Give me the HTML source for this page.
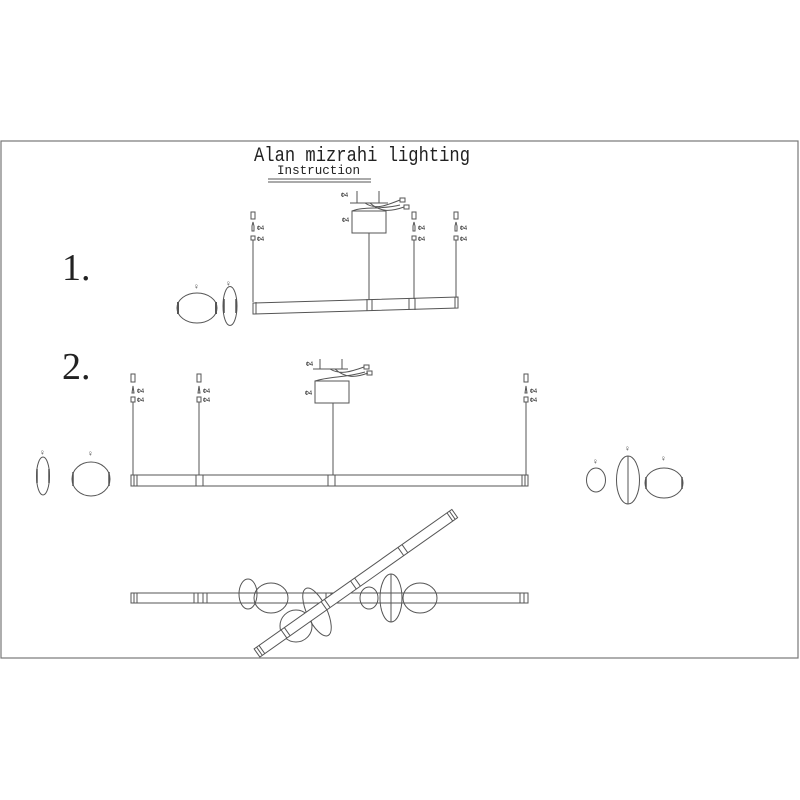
<!DOCTYPE html>
<html><head><meta charset="utf-8"><style>
html,body{margin:0;padding:0;background:#fff;width:800px;height:800px;overflow:hidden}
svg{display:block}
text{font-family:"Liberation Mono","DejaVu Sans Mono",monospace;fill:#222}
</style></head><body>
<svg width="800" height="800" viewBox="0 0 800 800" xmlns="http://www.w3.org/2000/svg">
<g fill="none" stroke="#555" stroke-width="1">
<rect x="1" y="141" width="797" height="517" stroke="#777" stroke-width="1.2"/>
<line x1="268" y1="179" x2="371" y2="179"/><line x1="268" y1="182" x2="371" y2="182"/>

<!-- Section 1 canopy -->
<line x1="350" y1="203" x2="388" y2="203"/>
<line x1="357" y1="191" x2="357" y2="203"/><line x1="379" y1="191" x2="379" y2="203"/>
<rect x="352" y="211" width="34" height="22"/>
<path d="M365 203 C375 210 385 206 400 200 M370 203 C380 212 390 212 404 207 M352 211 C365 206 380 210 400 205"/>
<rect x="400" y="198" width="5" height="4"/><rect x="404" y="205" width="5" height="4"/>
<line x1="369" y1="233" x2="369" y2="300"/>
<g>
<rect x="251" y="212" width="4" height="7"/><path d="M252 226 L253 222 L254 226 L254 231 L252 231Z"/><rect x="251" y="236" width="4" height="4"/><line x1="253" y1="240" x2="253" y2="302"/>
<rect x="412" y="212" width="4" height="7"/><path d="M413 226 L414 222 L415 226 L415 231 L413 231Z"/><rect x="412" y="236" width="4" height="4"/><line x1="414" y1="240" x2="414" y2="299"/>
<rect x="454" y="212" width="4" height="7"/><path d="M455 226 L456 222 L457 226 L457 231 L455 231Z"/><rect x="454" y="236" width="4" height="4"/><line x1="456" y1="240" x2="456" y2="297"/>
</g>
<path d="M253 303 L458 297 L458 308 L253 314 Z"/>
<path d="M256 302 L256 314 M367 299 L367 311 M372 299 L372 311 M409 298 L409 310 M415 298 L415 310 M455 297 L455 308"/>
<ellipse cx="197" cy="308" rx="20" ry="15"/>
<path d="M178 302 V314 M216 302 V314" stroke-width="2"/>
<ellipse cx="230" cy="306" rx="7" ry="19.5"/>
<path d="M224 299 V313 M236 299 V313" stroke-width="1.5"/>

<!-- Section 2 canopy -->
<line x1="313" y1="369" x2="348" y2="369"/>
<line x1="320" y1="359" x2="320" y2="369"/><line x1="342" y1="359" x2="342" y2="369"/>
<rect x="315" y="381" width="34" height="22"/>
<path d="M330 369 C340 375 350 372 364 367 M335 369 C345 378 355 378 368 373 M315 381 C330 376 345 378 365 372"/>
<rect x="364" y="365" width="5" height="4"/><rect x="367" y="371" width="5" height="4"/>
<line x1="333" y1="403" x2="333" y2="475"/>
<g>
<rect x="131" y="374" width="4" height="8"/><path d="M132 393 L133 386 L134 393Z"/><rect x="131" y="397" width="4" height="5"/><line x1="133" y1="402" x2="133" y2="475"/>
<rect x="197" y="374" width="4" height="8"/><path d="M198 393 L199 386 L200 393Z"/><rect x="197" y="397" width="4" height="5"/><line x1="199" y1="402" x2="199" y2="475"/>
<rect x="524" y="374" width="4" height="8"/><path d="M525 393 L526 386 L527 393Z"/><rect x="524" y="397" width="4" height="5"/><line x1="526" y1="402" x2="526" y2="475"/>
</g>
<rect x="131" y="475" width="397" height="11"/>
<path d="M134 475 V486 M137 475 V486 M196 475 V486 M203 475 V486 M328 475 V486 M335 475 V486 M522 475 V486 M525 475 V486"/>
<ellipse cx="43" cy="476" rx="6.5" ry="19"/>
<path d="M37 469 V483 M49 469 V483" stroke-width="1.5"/>
<ellipse cx="91" cy="479" rx="19" ry="17"/>
<path d="M73 472 V486 M109 472 V486" stroke-width="1.5"/>
<ellipse cx="596" cy="480" rx="9.5" ry="12"/>
<ellipse cx="628" cy="480" rx="11.5" ry="24"/>
<line x1="628" y1="456" x2="628" y2="504"/>
<ellipse cx="664" cy="483" rx="19" ry="15"/>
<path d="M646 477 V489 M682 477 V489" stroke-width="1.5"/>

<!-- bottom assembly -->
<rect x="131" y="593" width="397" height="10"/>
<path d="M134 593 V603 M137 593 V603 M194 593 V603 M198 593 V603 M203 593 V603 M207 593 V603 M326 593 V603 M331 593 V603 M338 593 V603 M520 593 V603 M524 593 V603"/>
<ellipse cx="248" cy="594" rx="9" ry="15"/>
<ellipse cx="271" cy="598" rx="17" ry="15"/>
<ellipse cx="369" cy="598" rx="9" ry="11"/>
<ellipse cx="391" cy="598" rx="11" ry="24"/>
<line x1="391" y1="574" x2="391" y2="622"/>
<ellipse cx="420" cy="598" rx="17" ry="15"/>
<ellipse cx="296" cy="626" rx="16" ry="16"/>
<ellipse cx="317" cy="612" rx="10" ry="26" transform="rotate(-25 317 612)"/>
<g transform="translate(257 653) rotate(-35.2)">
<rect x="0" y="-5" width="242" height="10" fill="#fff"/>
<path d="M3 -5 V5 M6 -5 V5 M33 -5 V5 M37 -5 V5 M82 -5 V5 M86 -5 V5 M118 -5 V5 M123 -5 V5 M176 -5 V5 M181 -5 V5 M236 -5 V5 M239 -5 V5"/>
</g>
</g>
<text x="254" y="161" font-size="20" textLength="216" lengthAdjust="spacingAndGlyphs">Alan mizrahi lighting</text>
<text x="277" y="174" font-size="13" textLength="83" lengthAdjust="spacingAndGlyphs">Instruction</text>
<text x="62" y="280" font-size="38" style="font-family:'Liberation Serif',serif">1.</text>
<text x="62" y="379" font-size="38" style="font-family:'Liberation Serif',serif">2.</text>
<g font-size="6">
<text x="341" y="197">Φ4</text><text x="342" y="222">Φ4</text>
<text x="257" y="230">Φ4</text><text x="257" y="241">Φ4</text>
<text x="418" y="230">Φ4</text><text x="418" y="241">Φ4</text>
<text x="460" y="230">Φ4</text><text x="460" y="241">Φ4</text>
<text x="306" y="366">Φ4</text><text x="305" y="395">Φ4</text>
<text x="137" y="393">Φ4</text><text x="137" y="402">Φ4</text>
<text x="203" y="393">Φ4</text><text x="203" y="402">Φ4</text>
<text x="530" y="393">Φ4</text><text x="530" y="402">Φ4</text>
</g>
<g font-size="8">
<text x="194" y="289">♀</text><text x="226" y="286">♀</text>
<text x="40" y="455">♀</text><text x="88" y="456">♀</text>
<text x="593" y="464">♀</text><text x="625" y="451">♀</text><text x="661" y="461">♀</text>
</g>
</svg>
</body></html>
